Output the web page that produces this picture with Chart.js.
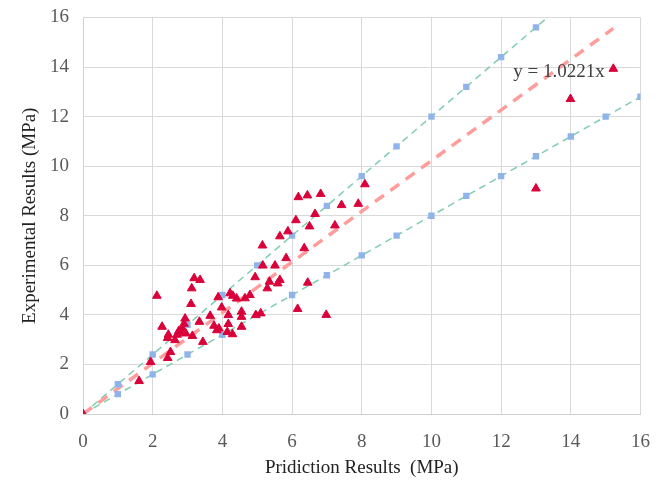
<!DOCTYPE html>
<html>
<head>
<meta charset="utf-8">
<script src="https://cdn.jsdelivr.net/npm/chart.js@4/dist/chart.umd.min.js"></script>
<style>
  html, body { margin: 0; padding: 0; background: #fff; }
  #wrap { width: 666px; height: 487px; }
</style>
</head>
<body>
<div id="wrap"><canvas id="chart"></canvas></div>
<script>
// measured points (prediction, experiment) in MPa
var predX = [0, 1.61, 1.94, 2.12, 2.27, 2.43, 2.51, 2.45, 2.43, 2.64, 2.70, 2.75, 2.80, 2.85, 2.90, 2.93, 2.95,
  3.10, 3.12, 3.19, 3.36, 3.14, 3.34, 3.44, 3.65, 3.76, 3.84, 3.90, 3.88, 3.98, 4.17, 4.17, 4.14, 4.22, 4.30,
  4.41, 4.29, 4.55, 4.55, 4.55, 4.65, 4.79, 4.94, 4.96, 5.10, 5.16, 5.15, 5.29, 5.35, 5.51, 5.59, 5.65, 5.65,
  5.83, 5.88, 6.11, 6.18, 6.16, 6.35, 6.44, 6.45, 6.50, 6.66, 6.82, 6.98, 7.23, 7.42, 7.90, 8.09, 13.0, 13.99, 15.22];
var expY = [0, 1.33, 2.10, 4.77, 3.52, 2.26, 2.50, 3.20, 3.07, 2.98, 3.20, 3.35, 3.30, 3.45, 3.64, 3.85, 3.25,
  4.44, 5.07, 5.48, 5.41, 3.15, 3.72, 2.91, 3.96, 3.56, 3.38, 3.45, 4.71, 4.30, 3.99, 3.63, 3.31, 4.87, 4.77,
  4.66, 3.22, 4.13, 3.92, 3.52, 4.67, 4.80, 5.52, 3.99, 4.06, 5.99, 6.80, 5.07, 5.34, 5.99, 5.27, 5.41, 7.17,
  6.29, 7.37, 7.82, 8.75, 4.24, 6.69, 8.82, 5.30, 7.57, 8.07, 8.88, 4.00, 7.61, 8.43, 8.48, 9.27, 9.10, 12.71, 13.93];

// +20% bound markers
var upperX = [0, 1, 2, 3, 4, 5, 6, 7, 8, 9, 10, 11, 12, 13];
var upperY = [0, 1.2, 2.4, 3.6, 4.8, 6.0, 7.2, 8.4, 9.6, 10.8, 12.0, 13.2, 14.4, 15.6];
var upperEndX = 13.33, upperEndY = 16;

// -20% bound markers
var lowerX = [0, 1, 2, 3, 4, 5, 6, 7, 8, 9, 10, 11, 12, 13, 14, 15, 16];
var lowerY = [0, 0.8, 1.6, 2.4, 3.2, 4.0, 4.8, 5.6, 6.4, 7.2, 8.0, 8.8, 9.6, 10.4, 11.2, 12.0, 12.8];

// trend line ends
var trendX = [0, 15.22];
var trendY = [0, 15.56];
var trendLabel = 'y = 1.0221x';
var trendLabelAt = [12.35, 13.78];

var xTitle = 'Pridiction Results  (MPa)';
var yTitle = 'Experimental Results (MPa)';
var axisMin = 0, axisMax = 16, tickStep = 2;

function pts(xs, ys) {
  return xs.map(function (x, i) { return { x: x, y: ys[i] }; });
}

var serif = '"Liberation Serif", "Times New Roman", serif';

var labelPlugin = {
  id: 'trendLabel',
  afterDatasetsDraw: function (chart) {
    var c = chart.ctx;
    var px = chart.scales.x.getPixelForValue(trendLabelAt[0]);
    var py = chart.scales.y.getPixelForValue(trendLabelAt[1]);
    c.save();
    c.font = '19px ' + serif;
    c.fillStyle = '#404040';
    c.textBaseline = 'middle';
    c.fillText(trendLabel, px, py);
    c.restore();
  }
};

var bgPlugin = {
  id: 'bg',
  beforeDraw: function (chart) {
    var c = chart.ctx;
    c.save();
    c.fillStyle = '#fff';
    c.fillRect(0, 0, chart.width, chart.height);
    c.restore();
  }
};

var ctx = document.getElementById('chart').getContext('2d');

var myChart = new Chart(ctx, {
  type: 'scatter',
  data: {
    datasets: [{
      label: 'Data',
      data: pts(predX, expY),
      pointStyle: 'triangle',
      pointRadius: 5,
      backgroundColor: 'rgb(218, 0, 58)',
      borderColor: 'rgb(218, 0, 58)',
      borderWidth: 1
    }, {
      label: 'Upper',
      data: pts(upperX, upperY),
      pointStyle: 'rect',
      pointRadius: 4.5,
      backgroundColor: '#8fb4ea',
      borderColor: '#8fb4ea',
      borderWidth: 0
    }, {
      label: 'Lower',
      data: pts(lowerX, lowerY),
      pointStyle: 'rect',
      pointRadius: 4.5,
      backgroundColor: '#8fb4ea',
      borderColor: '#8fb4ea',
      borderWidth: 0
    }, {
      label: 'Trend',
      data: pts(trendX, trendY),
      showLine: true,
      pointRadius: 0,
      borderColor: '#ff9c9c',
      borderWidth: 3.5,
      borderDash: [11, 8]
    }, {
      label: 'Upper line',
      data: [{ x: upperX[0], y: upperY[0] }, { x: upperEndX, y: upperEndY }],
      showLine: true,
      pointRadius: 0,
      borderColor: '#80cdb0',
      borderWidth: 1.5,
      borderDash: [7, 5]
    }, {
      label: 'Lower line',
      data: [{ x: lowerX[0], y: lowerY[0] }, { x: lowerX[lowerX.length - 1], y: lowerY[lowerY.length - 1] }],
      showLine: true,
      pointRadius: 0,
      borderColor: '#80cdb0',
      borderWidth: 1.5,
      borderDash: [7, 5]
    }]
  },
  options: {
    responsive: true,
    maintainAspectRatio: false,
    animation: false,
    layout: { padding: { top: 17.5, right: 25.5, bottom: 0, left: 0 } },
    plugins: {
      legend: { display: false },
      tooltip: { enabled: false }
    },
    scales: {
      x: {
        type: 'linear',
        min: axisMin,
        max: axisMax,
        afterFit: function (s) { s.height = 73; s.paddingLeft = 0; s.paddingRight = 0; },
        ticks: { stepSize: tickStep, color: '#595959', padding: 17, font: { family: serif, size: 19 } },
        grid: { color: '#d9d9d9', lineWidth: 1, drawTicks: false },
        border: { color: '#d0d0d0' },
        title: { display: true, text: xTitle, color: '#222', padding: { top: 0, bottom: 8 }, font: { family: serif, size: 19 } }
      },
      y: {
        type: 'linear',
        min: axisMin,
        max: axisMax,
        afterFit: function (s) { s.width = 83; s.paddingTop = 0; s.paddingBottom = 0; },
        ticks: { stepSize: tickStep, color: '#595959', padding: 14, font: { family: serif, size: 19 } },
        grid: { color: '#d9d9d9', lineWidth: 1, drawTicks: false },
        border: { color: '#d0d0d0' },
        title: { display: true, text: yTitle, color: '#222', padding: { top: 19, bottom: 0 }, font: { family: serif, size: 19 } }
      }
    }
  },
  plugins: [bgPlugin, labelPlugin]
});
</script>
</body>
</html>
